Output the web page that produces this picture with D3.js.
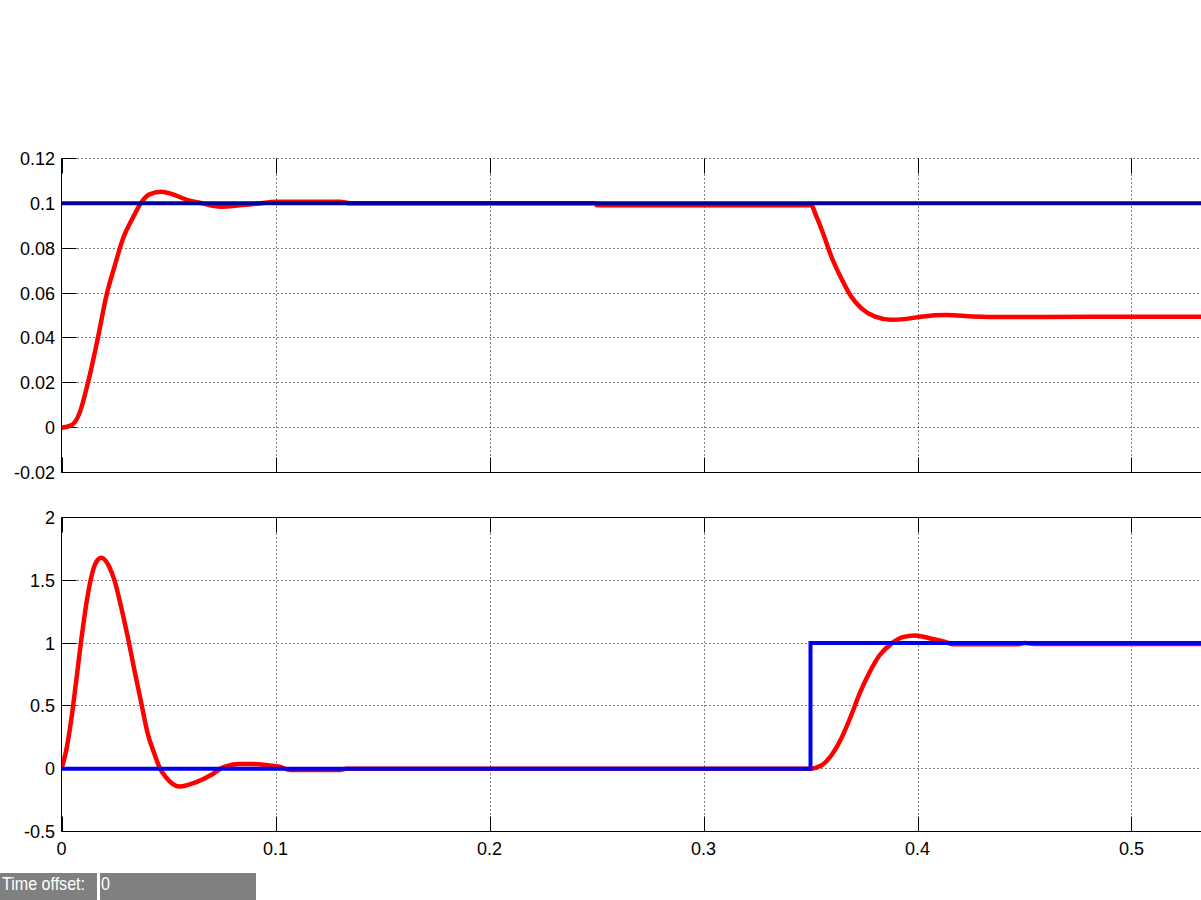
<!DOCTYPE html>
<html>
<head>
<meta charset="utf-8">
<script src="https://cdn.jsdelivr.net/npm/d3@7"></script>
<style>
  html, body { margin: 0; padding: 0; background: #ffffff; }
  svg { display: block; }
  text { font-family: "Liberation Sans", Arial, Helvetica, sans-serif; }
</style>
</head>
<body>
<svg id="chart" width="1201" height="900"></svg>
<script>
// ---------- data ----------
const xTicks = [0, 0.1, 0.2, 0.3, 0.4, 0.5];
const topYTicks = [-0.02, 0, 0.02, 0.04, 0.06, 0.08, 0.1, 0.12];
const botYTicks = [-0.5, 0, 0.5, 1, 1.5, 2];

// top subplot: reference (blue) and response (red)
const topRefTime = [0, 0.55];
const topRefValue = [0.1, 0.1];
const topRespTime = [0, 0.0045, 0.0084, 0.0123, 0.017, 0.0209, 0.0248, 0.0286, 0.0333, 0.0372,
  0.0411, 0.0466, 0.052, 0.0583, 0.0645, 0.0746, 0.0832, 0.091, 0.1003, 0.13, 0.135, 0.2495,
  0.25, 0.3495, 0.35, 0.3527, 0.3558, 0.3597, 0.3643, 0.369, 0.3737, 0.3799, 0.3877, 0.3947,
  0.4025, 0.4134, 0.4259, 0.44, 0.48, 0.55];
const topRespValue = [0, 0.001, 0.0064, 0.0198, 0.040, 0.0585, 0.0719, 0.0839, 0.0935, 0.1003,
  0.104, 0.1052, 0.104, 0.1017, 0.1003, 0.0985, 0.0991, 0.0998, 0.1007, 0.1007, 0.1, 0.1,
  0.0992, 0.0992, 0.0995, 0.0943, 0.0868, 0.0764, 0.0667, 0.0585, 0.0533, 0.0496, 0.0481, 0.0485,
  0.0496, 0.0502, 0.0496, 0.0493, 0.0494, 0.0494];

// bottom subplot
const botRefTime = [0, 0.35, 0.35, 0.55];
const botRefValue = [0, 0, 1, 1];
const botRespTime = [0, 0.0022, 0.0045, 0.0069, 0.0092, 0.0116, 0.0139, 0.0162, 0.0186, 0.0224,
  0.0248, 0.0279, 0.031, 0.0341, 0.0372, 0.0403, 0.0434, 0.0458, 0.0489, 0.0551, 0.063, 0.0707,
  0.0754, 0.0832, 0.0894, 0.0972, 0.1019, 0.107, 0.13, 0.133, 0.35, 0.355, 0.3597, 0.3643, 0.369,
  0.3729, 0.3776, 0.3822, 0.3877, 0.3931, 0.3986, 0.4056, 0.4134, 0.4166, 0.4463, 0.45, 0.4556, 0.55];
const botRespValue = [0, 0.145, 0.384, 0.702, 1.02, 1.313, 1.525, 1.644, 1.679, 1.604,
  1.498, 1.286, 1.047, 0.782, 0.530, 0.278, 0.119, 0.01, -0.07, -0.142, -0.107, -0.042,
  0.01, 0.037, 0.037, 0.025, 0.015, -0.01, -0.01, 0, 0, 0.025, 0.105, 0.238, 0.424,
  0.596, 0.768, 0.901, 0.994, 1.047, 1.06, 1.039, 1.007, 0.99, 0.99, 1.0, 0.992, 0.992];

const timeOffsetLabel = "Time offset:";
const timeOffsetValue = "0";

// ---------- layout ----------
const svg = d3.select("#chart");
const left = 61.5, right = 61.5 + 0.55 * 2140;
const tickLen = 15;

const x = d3.scaleLinear().domain([0, 0.55]).range([left, right]);

const panels = [
  { top: 158.5, bottom: 472.5, domain: [-0.02, 0.12], ticks: topYTicks, fmt: d => String(+d.toFixed(2)),
    ref: [topRefTime, topRefValue], refColor: "#000099", resp: [topRespTime, topRespValue], dottedTop: true },
  { top: 517.5, bottom: 831.5, domain: [-0.5, 2], ticks: botYTicks, fmt: d => String(d),
    ref: [botRefTime, botRefValue], refColor: "#0000ee", resp: [botRespTime, botRespValue], dottedTop: false }
];

panels.forEach((p, idx) => {
  const y = d3.scaleLinear().domain(p.domain).range([p.bottom, p.top]);
  const g = svg.append("g");

  const clipId = "clip" + idx;
  svg.append("clipPath").attr("id", clipId)
    .append("rect").attr("x", left).attr("y", p.top - 4).attr("width", right - left).attr("height", p.bottom - p.top + 8);

  // grid: vertical
  g.append("g").selectAll("line").data(xTicks.filter(t => t > 0)).join("line")
    .attr("x1", d => Math.round(x(d)) + 0.5).attr("x2", d => Math.round(x(d)) + 0.5)
    .attr("y1", p.top).attr("y2", p.bottom)
    .attr("stroke", "#000").attr("stroke-width", 1).attr("stroke-dasharray", "1,3");
  // grid: horizontal
  g.append("g").selectAll("line").data(p.ticks.filter(t => t !== p.domain[0])).join("line")
    .attr("x1", left).attr("x2", 1201)
    .attr("y1", d => Math.round(y(d) - 0.5) + 0.5).attr("y2", d => Math.round(y(d) - 0.5) + 0.5)
    .attr("stroke", "#000").attr("stroke-width", 1).attr("stroke-dasharray", "1,3");

  // box
  g.append("line").attr("x1", left).attr("x2", left).attr("y1", p.top).attr("y2", p.bottom).attr("stroke", "#000");
  g.append("line").attr("x1", left).attr("x2", 1201).attr("y1", p.bottom).attr("y2", p.bottom).attr("stroke", "#000");
  if (!p.dottedTop) {
    g.append("line").attr("x1", left).attr("x2", 1201).attr("y1", p.top).attr("y2", p.top).attr("stroke", "#000");
  }

  // x ticks (inward) bottom & top
  const xt = g.append("g");
  xTicks.forEach(t => {
    const px = Math.round(x(t)) + 0.5;
    xt.append("line").attr("x1", px).attr("x2", px).attr("y1", p.bottom).attr("y2", p.bottom - tickLen).attr("stroke", "#000");
    xt.append("line").attr("x1", px).attr("x2", px).attr("y1", p.top).attr("y2", p.top + tickLen).attr("stroke", "#000");
  });
  // y ticks (left)
  p.ticks.forEach(t => {
    const py = Math.round(y(t) - 0.5) + 0.5;
    g.append("line").attr("x1", left).attr("x2", left + tickLen).attr("y1", py).attr("y2", py).attr("stroke", "#000");
  });

  // y tick labels
  g.append("g").selectAll("text").data(p.ticks).join("text")
    .attr("x", 55).attr("y", d => y(d)).attr("dy", "0.36em")
    .attr("text-anchor", "end").attr("font-size", 18).attr("fill", "#000")
    .text(p.fmt);

  // lines
  const respData = p.resp[0].map((t, i) => [t, p.resp[1][i]]);
  const refData = p.ref[0].map((t, i) => [t, p.ref[1][i]]);

  const lg = svg.append("g").attr("clip-path", `url(#${clipId})`);
  lg.append("path").datum(respData)
    .attr("d", d3.line().x(d => x(d[0])).y(d => y(d[1])).curve(d3.curveMonotoneX))
    .attr("fill", "none").attr("stroke", "#ff0000").attr("stroke-width", 4.5)
    .attr("stroke-linejoin", "round");
  lg.append("path").datum(refData)
    .attr("d", d3.line().x(d => x(d[0])).y(d => y(d[1])))
    .attr("fill", "none").attr("stroke", p.refColor).attr("stroke-width", 4);

  if (idx === 1) {
    svg.append("g").selectAll("text").data(xTicks).join("text")
      .attr("x", d => x(d)).attr("y", 855)
      .attr("text-anchor", "middle").attr("font-size", 18).attr("fill", "#000")
      .text(d => String(d));
  }
});

// time offset bar
svg.append("rect").attr("x", 0).attr("y", 873).attr("width", 97).attr("height", 27).attr("fill", "#808080");
svg.append("rect").attr("x", 100).attr("y", 873).attr("width", 156).attr("height", 27).attr("fill", "#808080");
svg.append("text").attr("x", 2).attr("y", 890).attr("font-size", 19).attr("fill", "#ffffff")
  .attr("textLength", 83).attr("lengthAdjust", "spacingAndGlyphs").text(timeOffsetLabel);
svg.append("text").attr("x", 101).attr("y", 890).attr("font-size", 19).attr("fill", "#ffffff")
  .attr("textLength", 9).attr("lengthAdjust", "spacingAndGlyphs").text(timeOffsetValue);
</script>
</body>
</html>
